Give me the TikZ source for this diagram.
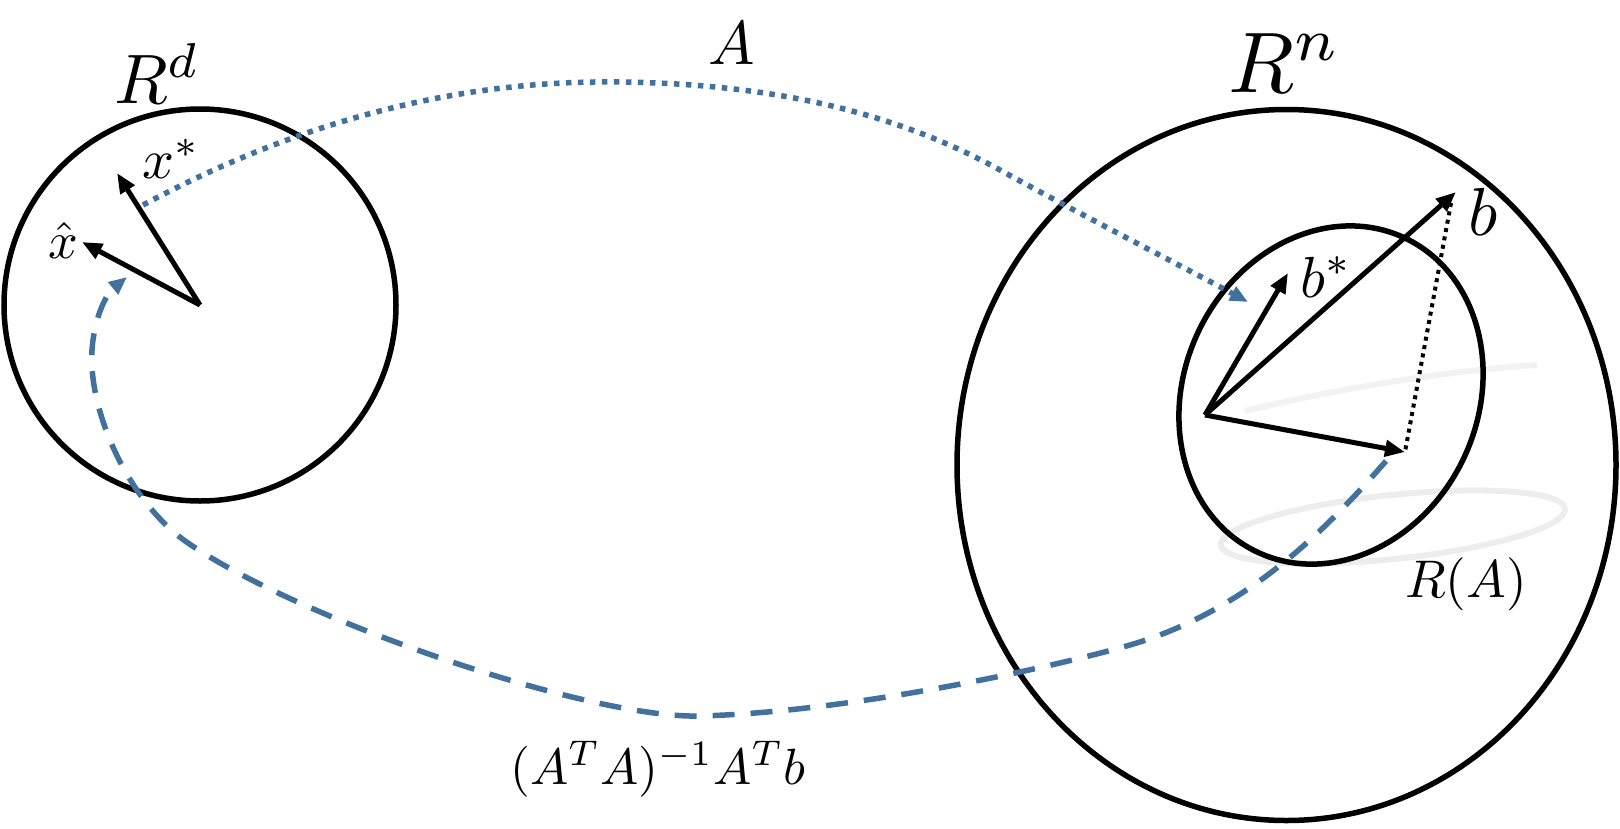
\documentclass[tikz,border=0pt]{standalone}
\usetikzlibrary{arrows.meta}
\definecolor{myblue}{RGB}{65,113,156}
\begin{document}
\begin{tikzpicture}[x=1pt,y=-1pt,
  ring/.style={draw=black,line width=5.5pt},
  vec/.style={draw=black,line width=5pt,-{Triangle[length=20pt,width=16pt]}},
  lab/.style={inner sep=0pt,anchor=base west},
  mapdot/.style={draw=myblue,line width=5.5pt,dash pattern=on 5.5pt off 6.5pt,-{Triangle[length=18pt,width=15pt]}},
  mapdash/.style={draw=myblue,line width=5.5pt,dash pattern=on 22pt off 16pt,-{Triangle[length=18pt,width=15pt]}},
  projline/.style={draw=black,line width=4pt,dash pattern=on 4pt off 4.5pt},
  shadowline/.style={draw=black!7,line width=6pt}
]
\useasboundingbox (0,0) rectangle (1620,828);

% faint shadow
\coordinate (sc) at (1393,527);
\draw[shadowline, rotate around={6:(sc)}] (sc) ellipse [x radius=173pt, y radius=32pt];
\coordinate (s1) at (1537,365);
\coordinate (s2) at (1245,411);
\draw[shadowline, draw=black!5] (s1) .. controls (1450,370) and (1330,390) .. (s2);

% sets
\coordinate (Lc) at (200,305);
\coordinate (Bc) at (1286.5,465);
\coordinate (Ic) at (1331,395);
\draw[ring] (Lc) circle [radius=196pt];
\draw[ring] (Bc) ellipse [x radius=329.5pt, y radius=355.5pt];
\draw[ring, rotate around={-25:(Ic)}] (Ic) ellipse [x radius=147pt, y radius=173.5pt];

% left vectors
\coordinate (xs) at (117,173);
\coordinate (xh) at (82,242);
\draw[vec] (Lc) -- (xs);
\draw[vec] (Lc) -- (xh);

% right vectors
\coordinate (O) at (1205,415);
\coordinate (bs) at (1288,273);
\coordinate (bb) at (1456,192);
\coordinate (pp) at (1405,452);
\coordinate (bd) at (1451,203);
\draw[vec] (O) -- (bs);
\draw[vec] (O) -- (bb);
\draw[vec] (O) -- (pp);
\draw[projline] (bd) -- (pp);

% mapping A (dotted)
\coordinate (m0) at (143,205);
\coordinate (m1) at (620,82);
\coordinate (m2) at (1000,170);
\coordinate (m3) at (1248,302);
\draw[mapdot] (m0) .. controls (320,110) and (480,80) .. (m1)
  .. controls (780,84) and (900,115) .. (m2)
  .. controls (1100,225) and (1180,265) .. (m3);

% mapping back (dashed)
\coordinate (d0) at (1386,461);
\coordinate (d1) at (1130,645);
\coordinate (d2) at (700,716);
\coordinate (d3) at (188,543);
\coordinate (d4) at (92,350);
\coordinate (d5) at (127,277);
\draw[mapdash] (d0) .. controls (1330,525) and (1250,610) .. (d1)
  .. controls (1050,668) and (850,712) .. (d2)
  .. controls (590,719) and (300,620) .. (d3)
  .. controls (128,502) and (88,410) .. (d4)
  .. controls (94,320) and (105,295) .. (d5);

% labels
\node[lab] (Rd) at (114,103) {\scalebox{7}{$R^d$}};
\node[lab] (Alab) at (708,64) {\scalebox{6.2}{$A$}};
\node[lab] (Rn) at (1228,92) {\scalebox{8.6}{$R^n$}};
\node[lab] (xsl) at (142,178) {\scalebox{5.6}{$x^*$}};
\node[lab] (xhl) at (48,258) {\scalebox{5.2}{$\hat{x}$}};
\node[lab] (bsl) at (1300,297) {\scalebox{5.8}{$b^*$}};
\node[lab] (bl) at (1468,235) {\scalebox{6.8}{$b$}};
\node[lab] (RA) at (1405,597) {\scalebox{5.3}{$R(A)$}};
\node[lab] (inv) at (510,784) {\scalebox{5.1}{$(A^TA)^{-1}A^Tb$}};
\end{tikzpicture}
\end{document}
